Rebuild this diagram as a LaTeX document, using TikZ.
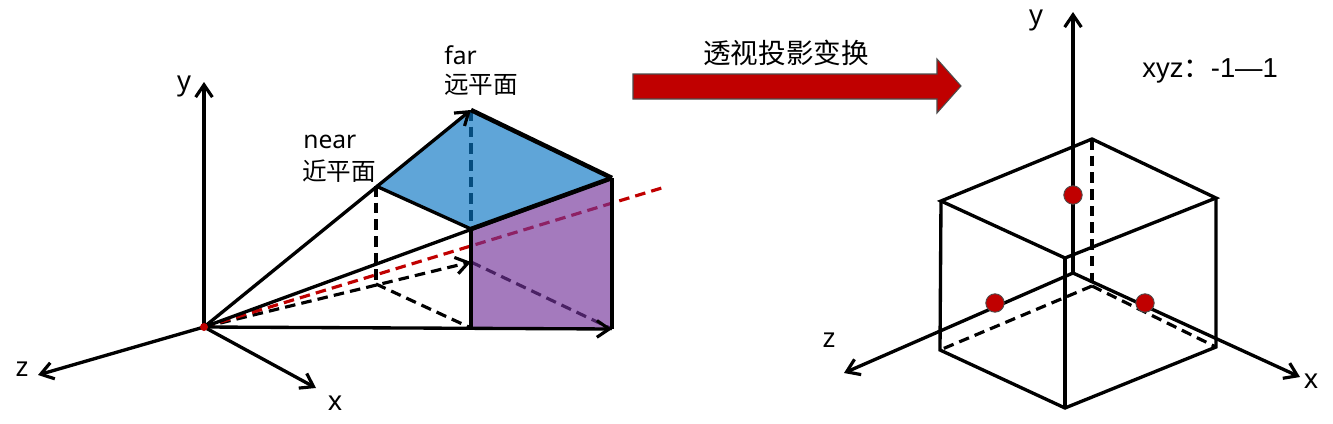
\documentclass[tikz,border=0pt]{standalone}
\usepackage{fontspec}
\setmainfont{Noto Sans}
\newfontfamily\cjkfont{Noto Sans CJK SC}
\newfontfamily\arialfont{Liberation Sans}
\usetikzlibrary{arrows.meta}
\definecolor{nearblue}{RGB}{9,117,195}
\definecolor{sidepurple}{RGB}{115,51,154}
\definecolor{darkred}{RGB}{192,0,0}
\tikzset{
  >={Straight Barb[length=7pt,width=9.5pt,line width=1.8pt]},
  solidline/.style={line width=1.9pt},
  heavyline/.style={line width=2.6pt},
  dashline/.style={line width=1.8pt,dash pattern=on 6pt off 3.5pt},
  label/.style={inner sep=0pt,font=\fontsize{14}{16}\selectfont},
  axislabel/.style={inner sep=0pt,font=\fontsize{15.5}{18}\selectfont},
  dot/.style={circle,draw=black!70,line width=0.5pt,fill=darkred,minimum size=10.5pt,inner sep=0pt}
}
\begin{document}
\begin{tikzpicture}[x=0.02cm,y=-0.02cm]
  \useasboundingbox (0,0) rectangle (1333,423);
  % left: view frustum
  \coordinate (orig) at (204,327);
  \coordinate (ytip) at (204,82);
  \coordinate (ztip) at (38,375);
  \coordinate (xtip) at (316,388);
  \coordinate (nearleft) at (376,186);
  \coordinate (nearbot) at (376,284);
  \coordinate (farback) at (471,110);
  \coordinate (farright) at (612,178);
  \coordinate (front) at (471,229);
  \coordinate (frontmid) at (471,262);
  \coordinate (frontbot) at (471,328);
  \coordinate (rightbot) at (612,329);
  \coordinate (viewend) at (665,187);
  % dashes go under the fills
  \draw[dashline] (nearleft) -- (nearbot);
  \draw[dashline] (nearbot) -- (frontbot);
  \draw[dashline] (frontmid) -- (rightbot);
  \draw[dashline] (farback) -- (front);
  \draw[dashline,->] (orig) -- (frontmid);
  \draw[dashline,darkred] (orig) -- (viewend);
  \fill[nearblue,fill opacity=0.65] (nearleft) -- (farback) -- (farright) -- (front) -- cycle;
  \fill[sidepurple,fill opacity=0.65] (front) -- (farright) -- (rightbot) -- (frontbot) -- cycle;
  \draw[solidline,->] (orig) -- (ytip);
  \draw[solidline,->] (orig) -- (ztip);
  \draw[solidline,->] (orig) -- (xtip);
  \draw[solidline,->] (orig) -- (farback);
  \draw[solidline] (orig) -- (farright);
  \draw[solidline,->] (orig) -- (rightbot);
  \draw[heavyline] (farback) -- (farright);
  \draw[solidline] (nearleft) -- (front);
  \draw[heavyline] (front) -- (farright);
  \draw[heavyline] (front) -- (frontbot);
  \draw[heavyline] (farright) -- (rightbot);
  \fill[darkred] (orig) circle (4);
  \node[axislabel] (ylabel) at (184,86) {y};
  \node[axislabel] (zlabel) at (22,369) {z};
  \node[axislabel] (xlabel) at (335,403) {x};
  \node[label,anchor=west] (farlabel) at (444,55) {far};
  \node[label,anchor=west] (farcjk) at (444,85) {\cjkfont 远平面};
  \node[label,anchor=west] (nearlabel) at (303,142) {near};
  \node[label,anchor=west] (nearcjk) at (302,171) {\cjkfont 近平面};
  % transform arrow
  \draw[fill=darkred,draw=black!70,line width=0.6pt] (633,74) -- (937,74) -- (937,59) -- (961,86)
    -- (937,113) -- (937,99) -- (633,99) -- cycle;
  \node[label,font=\fontsize{15.7}{18}\selectfont] (arrowlabel) at (786,53) {\cjkfont 透视投影变换};
  % right: unit cube
  \coordinate (corig) at (1073,273);
  \coordinate (cytip) at (1073,12);
  \coordinate (cxtip) at (1300,377);
  \coordinate (cztip) at (844,373);
  \coordinate (topback) at (1092,139);
  \coordinate (topleft) at (941,201);
  \coordinate (topright) at (1216,198);
  \coordinate (topfront) at (1065,258);
  \coordinate (botback) at (1092,286);
  \coordinate (botleft) at (940,350);
  \coordinate (botright) at (1216,347);
  \coordinate (botfront) at (1065,408);
  \draw[solidline,->] (corig) -- (cytip);
  \draw[solidline,->] (corig) -- (cxtip);
  \draw[solidline,->] (corig) -- (cztip);
  \draw[dashline] (topback) -- (botback);
  \draw[dashline] (botback) -- (botleft);
  \draw[dashline] (botback) -- (botright);
  \draw[solidline] (topleft) -- (topback) -- (topright) -- (topfront) -- cycle;
  \draw[solidline] (topleft) -- (botleft) -- (botfront) -- (botright) -- (topright);
  \draw[solidline] (topfront) -- (botfront);
  \node[dot] (ydot) at (1073,195) {};
  \node[dot] (zdot) at (995,303) {};
  \node[dot] (xdot) at (1145,303) {};
  \node[axislabel] (cylabel) at (1036,20) {y};
  \node[axislabel] (czlabel) at (829,340) {z};
  \node[axislabel] (cxlabel) at (1311,381) {x};
  \node[label,anchor=west,font=\fontsize{15.6}{18}\selectfont] (rangelabel) at (1142,71) {\arialfont xyz\cjkfont ：\arialfont -1—1};
\end{tikzpicture}
\end{document}
